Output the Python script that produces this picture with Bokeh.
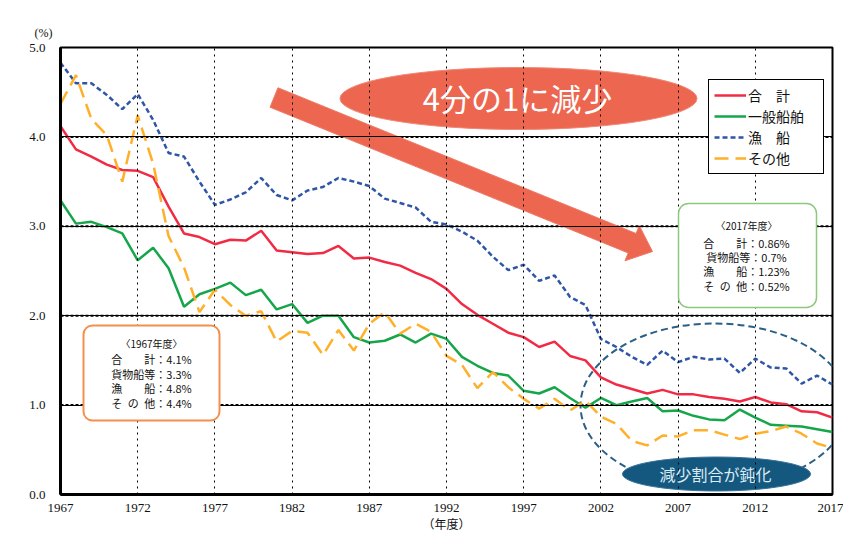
import numpy as np
from bokeh.plotting import figure
from bokeh.models import (Range1d, FixedTicker, Legend, LegendItem, Label,
                          BoxAnnotation, NumeralTickFormatter)
from bokeh.embed import file_html
from bokeh.resources import INLINE

# ---------------- data ----------------
years = list(range(1967, 2018))
total = [4.12, 3.86, 3.78, 3.69, 3.63, 3.62, 3.55, 3.22, 2.92, 2.88,
         2.80, 2.85, 2.84, 2.95, 2.73, 2.71, 2.69, 2.70, 2.78, 2.64,
         2.65, 2.60, 2.56, 2.48, 2.41, 2.30, 2.13, 2.01, 1.91, 1.81,
         1.76, 1.65, 1.71, 1.55, 1.50, 1.31, 1.23, 1.18, 1.13, 1.17,
         1.12, 1.12, 1.09, 1.07, 1.04, 1.09, 1.03, 1.01, 0.93, 0.92,
         0.86]
general = [3.29, 3.03, 3.05, 2.99, 2.92, 2.62, 2.76, 2.53, 2.10, 2.24,
           2.30, 2.37, 2.23, 2.29, 2.07, 2.13, 1.92, 2.00, 2.00, 1.76,
           1.70, 1.72, 1.79, 1.70, 1.80, 1.74, 1.54, 1.44, 1.36, 1.33,
           1.16, 1.13, 1.20, 1.08, 0.97, 1.08, 1.00, 1.04, 1.08, 0.93,
           0.94, 0.88, 0.84, 0.83, 0.95, 0.86, 0.78, 0.77, 0.76, 0.73,
           0.70]
fishing = [4.83, 4.60, 4.60, 4.47, 4.31, 4.48, 4.19, 3.82, 3.78, 3.50,
           3.24, 3.30, 3.38, 3.54, 3.35, 3.29, 3.40, 3.44, 3.54, 3.50,
           3.45, 3.31, 3.26, 3.21, 3.05, 3.02, 2.94, 2.84, 2.66, 2.51,
           2.57, 2.39, 2.45, 2.21, 2.12, 1.74, 1.65, 1.54, 1.45, 1.61,
           1.48, 1.54, 1.51, 1.52, 1.36, 1.52, 1.42, 1.41, 1.24, 1.33,
           1.23]
other = [4.37, 4.69, 4.20, 4.02, 3.50, 4.24, 3.70, 2.89, 2.54, 2.04,
         2.29, 2.12, 2.00, 2.05, 1.71, 1.83, 1.81, 1.56, 1.84, 1.61,
         1.91, 2.04, 1.80, 1.91, 1.82, 1.55, 1.45, 1.19, 1.37, 1.20,
         1.07, 0.96, 1.07, 0.94, 1.05, 0.87, 0.79, 0.60, 0.55, 0.66,
         0.65, 0.72, 0.72, 0.67, 0.62, 0.68, 0.71, 0.76, 0.68, 0.57,
         0.52]
series_names = ["合\u3000計", "一般船舶", "漁\u3000船", "その他"]
x_ticks = [1967, 1972, 1977, 1982, 1987, 1992, 1997, 2002, 2007, 2012, 2017]
y_ticks = [0, 1, 2, 3, 4, 5]

box1967 = ["〈1967年度〉", "合\u3000\u3000計：4.1%", "貨物船等：3.3%",
           "漁\u3000\u3000船：4.8%", "そ\u2002の\u2002他：4.4%"]
box2017 = ["〈2017年度〉", "合\u3000\u3000計：0.86%", "貨物船等：0.7%",
           "漁\u3000\u3000船：1.23%", "そ\u2002の\u2002他：0.52%"]

# ---------------- figure ----------------
W, H = 843, 535
L, T, R, B = 60, 47, 11, 41
FW, FH = W - L - R, H - T - B
X0, X1, Y0, Y1 = 1967, 2017, 0, 5
SX = FW / (X1 - X0)
SY = FH / (Y1 - Y0)


def dx(ax):
    return X0 + (ax - L) / SX


def dy(ay):
    return Y1 - (ay - T) / SY


p = figure(width=W, height=H, output_backend="svg", toolbar_location=None,
           x_range=Range1d(X0, X1), y_range=Range1d(Y0, Y1),
           min_border_left=L, min_border_top=T, min_border_right=R,
           min_border_bottom=B, background_fill_color="white",
           border_fill_color="white",
           title="(%)")

p.title.text_font = "Liberation Serif"
p.title.text_font_size = "12px"
p.title.text_font_style = "normal"
p.title.text_color = "#111111"
p.title.align = "left"
p.title.offset = -26
p.title.standoff = 16

p.outline_line_color = "black"
p.outline_line_width = 2

p.xaxis.ticker = FixedTicker(ticks=x_ticks)
p.yaxis.ticker = FixedTicker(ticks=y_ticks)
p.yaxis.formatter = NumeralTickFormatter(format="0.0")
for ax in (p.xaxis[0], p.yaxis[0]):
    ax.axis_line_color = "black"
    ax.axis_line_width = 3
    ax.major_tick_line_color = None
    ax.minor_tick_line_color = None
    ax.major_tick_out = 0
    ax.major_tick_in = 0
    ax.major_label_text_font = "Liberation Serif"
    ax.major_label_text_font_size = "13px"
    ax.major_label_text_color = "#111111"
p.xaxis.major_label_standoff = 9
p.yaxis.major_label_standoff = 15
p.xaxis.axis_label = "（年度）"
p.xaxis.axis_label_text_font = "Noto Sans CJK JP"
p.xaxis.axis_label_text_font_size = "12px"
p.xaxis.axis_label_text_font_style = "normal"
p.xaxis.axis_label_text_color = "#111111"
p.xaxis.axis_label_standoff = 0

# built-in grid, on the glyph level, dotted
for g in (p.xgrid[0], p.ygrid[0]):
    g.level = "glyph"
    g.grid_line_color = "#000000"
    g.grid_line_width = 1
    g.grid_line_alpha = 1.0
p.xgrid.grid_line_dash = "dotted"

gy = y_ticks[1:-1]
p.segment(x0=[X0] * len(gy), y0=gy, x1=[X1] * len(gy), y1=gy,
          line_color="#000000", line_width=2, line_dash="3 2")

# ---------------- decorations (big arrow + ellipses) ----------------
tail = np.array([273.5, 97.0])
tip = np.array([652.0, 251.0])
u = (tip - tail) / np.linalg.norm(tip - tail)
n = np.array([-u[1], u[0]])
base = tip - 22 * u
pts = [tail - 10.5 * n, base - 10.5 * n, base - 19 * n, tip,
       base + 19 * n, base + 10.5 * n, tail + 10.5 * n]
p.patch([dx(q[0]) for q in pts], [dy(q[1]) for q in pts],
        fill_color="#EC6650", line_color="#EE7A66", line_width=1)

p.ellipse(x=[dx(518)], y=[dy(98)], width=[357 / SX], height=[62 / SY],
          fill_color="#EC6650", line_color="#F08A78", line_width=1)

p.ellipse(x=[dx(714)], y=[dy(405)], width=[268 / SX], height=[164 / SY],
          fill_color=None, line_color="#2A5F86", line_width=2,
          line_dash="7 4")

p.ellipse(x=[dx(716)], y=[dy(473.5)], width=[188 / SX], height=[34 / SY],
          fill_color="#14587F", line_color="#3A7398", line_width=1)

# ---------------- data lines ----------------
r_total = p.line(years, total, line_color="#F22B45", line_width=2.5)
r_gen = p.line(years, general, line_color="#16A64A", line_width=2.5)
r_fish = p.line(years, fishing, line_color="#2F56A6", line_width=2.5,
                line_dash="5 3")
r_oth = p.line(years, other, line_color="#FFB02A", line_width=2.5,
               line_dash="14 7")

legend = Legend(items=[LegendItem(label=series_names[0], renderers=[r_total]),
                       LegendItem(label=series_names[1], renderers=[r_gen]),
                       LegendItem(label=series_names[2], renderers=[r_fish]),
                       LegendItem(label=series_names[3], renderers=[r_oth])],
                location=(648, 320), padding=5, spacing=1, margin=0,
                glyph_width=32, glyph_height=20, label_height=20,
                label_width=70, label_standoff=2,
                label_text_font="Noto Sans CJK JP",
                label_text_font_size="14px", label_text_color="#111111",
                border_line_color="black", border_line_width=1.5,
                border_line_alpha=1,
                background_fill_color="white", background_fill_alpha=1)
p.add_layout(legend)

# ---------------- info boxes ----------------
p.add_layout(BoxAnnotation(left=dx(83), right=dx(219), top=dy(325),
                           bottom=dy(420), fill_color="white", fill_alpha=1,
                           line_color="#F4904E", line_alpha=1, line_width=2,
                           border_radius=9))
p.add_layout(BoxAnnotation(left=dx(678), right=dx(816), top=dy(203),
                           bottom=dy(307), fill_color="white", fill_alpha=1,
                           line_color="#8CC97E", line_alpha=1, line_width=1.5,
                           border_radius=10))

for i, (txt, yy) in enumerate(zip(box1967, [343, 358, 373, 387.5, 402])):
    p.add_layout(Label(x=dx(151), y=dy(yy), text=txt, text_align="center",
                       text_baseline="middle", text_font="Noto Sans CJK JP",
                       text_font_size="10px" if i == 0 else "11px",
                       text_color="#111111"))
for i, (txt, yy) in enumerate(zip(box2017, [225, 242, 256, 270.5, 285])):
    p.add_layout(Label(x=dx(746), y=dy(yy), text=txt, text_align="center",
                       text_baseline="middle", text_font="Noto Sans CJK JP",
                       text_font_size="10px" if i == 0 else "11px",
                       text_color="#111111"))

# ---------------- texts ----------------
p.add_layout(Label(x=dx(517), y=dy(97), text="4分の1に減少",
                   text_align="center", text_baseline="middle",
                   text_font="Noto Sans CJK JP", text_font_size="31px",
                   text_color="white"))
p.add_layout(Label(x=dx(715), y=dy(473.5), text="減少割合が鈍化",
                   text_align="center", text_baseline="middle",
                   text_font="Noto Sans CJK JP", text_font_size="16px",
                   text_color="#DDEBF3"))

open("out.html", "w").write(file_html(p, INLINE))
